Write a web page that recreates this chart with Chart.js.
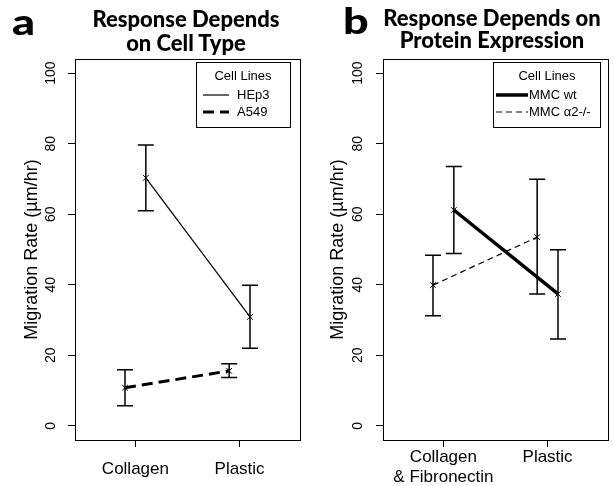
<!DOCTYPE html>
<html>
<head>
<meta charset="utf-8">
<script src="https://cdn.jsdelivr.net/npm/chart.js@4.4.1/dist/chart.umd.min.js"></script>
<style>
  body { margin: 0; background: #fff; }
  #wrap { position: relative; width: 614px; height: 486px; overflow: hidden; }
  canvas { position: absolute; top: 0; }
  .tag, .ttl { position: absolute; font-family: Lato, 'Open Sans', sans-serif; font-weight: 900; color: #000; }
  .tag { font-size: 36px; line-height: 36px; transform: scaleX(1.25); transform-origin: left top; }
  .ttl { font-size: 22px; text-align: center; width: 250px; white-space: nowrap; }
</style>
</head>
<body>
<div id="wrap">
  <canvas id="panelA" width="307" height="486" style="left:0"></canvas>
  <canvas id="panelB" width="307" height="486" style="left:307px"></canvas>
  <div class="tag" style="left:12px;top:3px">a</div>
  <div class="ttl" style="left:61px;top:7px;line-height:24px">Response Depends<br>on Cell Type</div>
  <div class="tag" style="left:343px;top:2px">b</div>
  <div class="ttl" style="left:367px;top:7px;line-height:22px">Response Depends on<br>Protein Expression</div>
</div>
<script>
// valeurs
const cellTypeCats = ['Collagen', 'Plastic'];
const hep3Mean = [70.3, 30.9];
const hep3Low = [61.0, 22.0];
const hep3High = [79.6, 39.9];
const a549Mean = [10.8, 15.6];
const a549Low = [5.7, 13.7];
const a549High = [15.9, 17.6];

const proteinCats = [['Collagen', '& Fibronectin'], 'Plastic'];
const wtMean = [61.2, 37.4];
const wtLow = [48.9, 24.6];
const wtHigh = [73.5, 49.9];
const a2Mean = [39.9, 53.5];
const a2Low = [31.2, 37.4];
const a2High = [48.4, 69.9];

const yTickValues = [0, 20, 40, 60, 80, 100];
const legendTitle = 'Cell Lines';
const yTitle = 'Migration Rate (µm/hr)';

const FONT = "'Liberation Sans', Arial, Helvetica, sans-serif";
Chart.defaults.font.family = FONT;
Chart.defaults.color = '#000';

// cadre autour de la zone de tracé
const frame = {
  id: 'frame',
  beforeDatasetsDraw(chart) {
    const { ctx, chartArea: a } = chart;
    ctx.save();
    ctx.strokeStyle = '#000';
    ctx.lineWidth = 1;
    ctx.strokeRect(a.left + 0.5, a.top + 0.5, a.width, a.height);
    ctx.restore();
  }
};

// barres d'erreur
const errorBars = {
  id: 'errorBars',
  afterDatasetsDraw(chart) {
    const ctx = chart.ctx;
    const y = chart.scales.y;
    chart.data.datasets.forEach((ds, i) => {
      chart.getDatasetMeta(i).data.forEach((pt, j) => {
        const top = y.getPixelForValue(ds.errHigh[j]);
        const bot = y.getPixelForValue(ds.errLow[j]);
        ctx.save();
        ctx.strokeStyle = '#000';
        ctx.lineWidth = 1.5;
        ctx.beginPath();
        ctx.moveTo(pt.x, top); ctx.lineTo(pt.x, bot);
        ctx.moveTo(pt.x - 8, top); ctx.lineTo(pt.x + 8, top);
        ctx.moveTo(pt.x - 8, bot); ctx.lineTo(pt.x + 8, bot);
        ctx.stroke();
        ctx.restore();
      });
    });
  }
};

function makeLegend(lay) {
  return {
    id: 'boxLegend',
    afterDraw(chart) {
      const ctx = chart.ctx;
      ctx.save();
      ctx.strokeStyle = '#000';
      ctx.lineWidth = 1;
      ctx.strokeRect(lay.box[0] + 0.5, lay.box[1] + 0.5, lay.box[2] - lay.box[0], lay.box[3] - lay.box[1]);
      ctx.font = '13px ' + FONT;
      ctx.fillStyle = '#000';
      ctx.textBaseline = 'middle';
      ctx.textAlign = 'center';
      ctx.fillText(legendTitle, lay.titleX, lay.titleY);
      ctx.textAlign = 'left';
      chart.data.datasets.forEach((ds, i) => {
        const yy = lay.rows[i];
        ctx.save();
        ctx.lineWidth = ds.borderWidth;
        ctx.setLineDash(ds.borderDash || []);
        ctx.beginPath();
        ctx.moveTo(lay.lineX[0], yy);
        ctx.lineTo(lay.lineX[1], yy);
        ctx.stroke();
        ctx.restore();
        ctx.fillText(ds.label, lay.textX, yy);
      });
      ctx.restore();
    }
  };
}

function makePanel(id, cats, series, p) {
  const gridOpts = { drawOnChartArea: false, color: '#000', tickLength: 7, lineWidth: 1 };
  return new Chart(document.getElementById(id), {
    type: 'line',
    data: {
      datasets: series.map(s => ({
        label: s.name,
        data: s.mean.map((v, k) => ({ x: k + 1 + s.shift, y: v })),
        errLow: s.low,
        errHigh: s.high,
        borderColor: '#000',
        borderWidth: s.width,
        borderDash: s.dash,
        pointStyle: 'crossRot',
        pointRadius: 4,
        pointBorderWidth: 1,
        pointBorderColor: '#000',
        pointBackgroundColor: '#000',
        tension: 0,
        fill: false
      }))
    },
    options: {
      responsive: false,
      animation: false,
      devicePixelRatio: 1,
      layout: { padding: { left: 0, right: p.padRight, top: 59, bottom: 0 } },
      plugins: { legend: { display: false }, tooltip: { enabled: false } },
      scales: {
        x: {
          type: 'linear',
          min: 0.42,
          max: 2.58,
          afterBuildTicks: sc => { sc.ticks = cats.map((c, k) => ({ value: k + 1 })); },
          afterFit: sc => { sc.height = 46; },
          ticks: {
            callback: v => cats[v - 1],
            font: { size: 17, lineHeight: 1.2 },
            padding: p.xPad,
            maxRotation: 0,
            minRotation: 0,
            autoSkip: false
          },
          grid: gridOpts,
          border: { display: false }
        },
        y: {
          min: -4,
          max: 104,
          afterBuildTicks: sc => { sc.ticks = yTickValues.map(v => ({ value: v })); },
          afterFit: sc => { sc.width = p.yWidth; },
          ticks: { font: { size: 14 }, minRotation: 90, maxRotation: 90, crossAlign: 'center', padding: p.yPad },
          grid: gridOpts,
          border: { display: false },
          title: { display: true, text: yTitle, font: { size: 18 }, padding: { top: p.titlePad, bottom: 0 } }
        }
      }
    },
    plugins: [frame, errorBars, makeLegend(p.legend)]
  });
}

makePanel('panelA', cellTypeCats, [
  { name: 'HEp3', mean: hep3Mean, low: hep3Low, high: hep3High, shift: 0.1, width: 1.2, dash: [] },
  { name: 'A549', mean: a549Mean, low: a549Low, high: a549High, shift: -0.1, width: 3, dash: [11, 6] }
], {
  padRight: 7, yWidth: 75, yPad: 5, titlePad: 21, xPad: 12,
  legend: { box: [196, 62, 290, 127], titleX: 243, titleY: 76, rows: [95, 112], lineX: [203, 229], textX: 237 }
});

makePanel('panelB', proteinCats, [
  { name: 'MMC wt', mean: wtMean, low: wtLow, high: wtHigh, shift: 0.1, width: 3.5, dash: [] },
  { name: 'MMC α2-/-', mean: a2Mean, low: a2Low, high: a2High, shift: -0.1, width: 1.2, dash: [6, 4] }
], {
  padRight: 6, yWidth: 76, yPad: 6, titlePad: 20, xPad: 0,
  legend: { box: [186, 62, 293, 127], titleX: 240, titleY: 76, rows: [95, 112], lineX: [189, 221], textX: 222 }
});
</script>
</body>
</html>
